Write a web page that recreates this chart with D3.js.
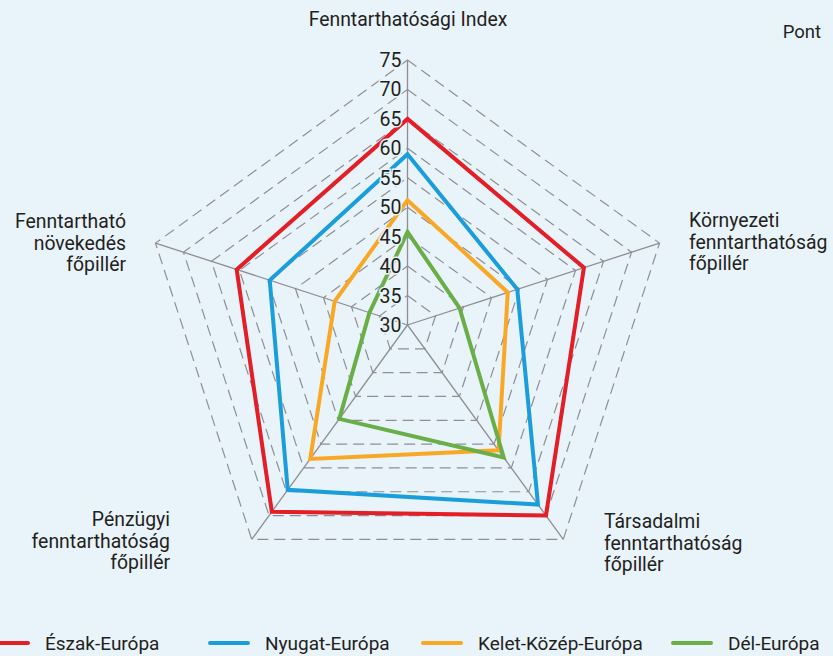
<!DOCTYPE html>
<html><head><meta charset="utf-8">
<script src="https://cdn.jsdelivr.net/npm/d3@7"></script>
<style>
body{margin:0;background:#e9f3fa;}
svg text{font-family:Roboto, "Liberation Sans", sans-serif; fill:#231f20;}
</style>
</head><body>
<svg id="chart" width="833" height="656"></svg>
<script>
// ---- data ----
const axisLabels = [
  ["Fenntarthatósági Index"],
  ["Környezeti", "fenntarthatóság", "főpillér"],
  ["Társadalmi", "fenntarthatóság", "főpillér"],
  ["Pénzügyi", "fenntarthatóság", "főpillér"],
  ["Fenntartható", "növekedés", "főpillér"]
];
const seriesNames = ["Észak-Európa", "Nyugat-Európa", "Kelet-Közép-Európa", "Dél-Európa"];
const eszak = [65, 61.5, 70, 69.2, 60.5];
const nyugat = [59, 49.6, 67.7, 64.6, 54.6];
const keletKozep = [51.2, 47.9, 56.3, 58.1, 43];
const del = [45.8, 39.3, 57.8, 49.7, 36.8];
const tickValues = [30, 35, 40, 45, 50, 55, 60, 65, 70, 75];
const unitLabel = "Pont";

// ---- layout ----
const colors = ["#e31e26", "#1a9edb", "#f9a825", "#6aae47"];
const series = [eszak, nyugat, keletKozep, del];
const cx = 407.5, cy = 325, R = 265;
const bg = "#e9f3fa";
const svg = d3.select("#chart");
svg.append("rect").attr("width", 833).attr("height", 656).attr("fill", bg);
const r = d3.scaleLinear().domain([30, 75]).range([0, R]);
const nAx = axisLabels.length;
const ang = d3.scaleLinear().domain([0, nAx]).range([0, 2 * Math.PI]);
const g = svg.append("g").attr("transform", `translate(${cx},${cy})`);

// grid rings
const ring = d3.lineRadial().angle((d, i) => ang(i)).radius(d => r(d)).curve(d3.curveLinearClosed);
g.selectAll("path.ring").data(tickValues.filter(t => t > 30)).join("path")
  .attr("class", "ring")
  .attr("d", t => ring(d3.range(nAx).map(() => t)))
  .attr("fill", "none").attr("stroke", "#8f8f93").attr("stroke-width", 1.2)
  .attr("stroke-dasharray", "11,6");

// spokes
g.selectAll("line.spoke").data(d3.range(nAx)).join("line")
  .attr("x1", 0).attr("y1", 0)
  .attr("x2", i => r(75) * Math.sin(ang(i)))
  .attr("y2", i => -r(75) * Math.cos(ang(i)))
  .attr("stroke", "#8f8f93").attr("stroke-width", 1.3);

// series
const line = d3.lineRadial().angle((d, i) => ang(i)).radius(d => r(d)).curve(d3.curveLinearClosed);
g.selectAll("path.series").data(series).join("path")
  .attr("class", "series")
  .attr("d", d => line(d))
  .attr("fill", "none")
  .attr("stroke", (d, i) => colors[i])
  .attr("stroke-width", 4)
  .attr("stroke-linejoin", "miter");

// tick labels
g.selectAll("text.tick").data(tickValues).join("text")
  .attr("class", "tick")
  .attr("x", -6).attr("y", t => -r(t))
  .attr("dy", "0.36em")
  .attr("text-anchor", "end")
  .attr("font-size", 19.5)
  .attr("stroke", bg).attr("stroke-width", 3).attr("paint-order", "stroke")
  .text(t => t);

// axis labels
const labelPos = [
  {x: 408, y: 26, anchor: "middle"},
  {x: 689, y: 227, anchor: "start"},
  {x: 604, y: 528, anchor: "start"},
  {x: 170, y: 526, anchor: "end"},
  {x: 126, y: 228, anchor: "end"}
];
axisLabels.forEach((lines, i) => {
  const p = labelPos[i];
  const t = svg.append("text").attr("x", p.x).attr("y", p.y)
    .attr("text-anchor", p.anchor).attr("font-size", 19.4);
  lines.forEach((s, j) => t.append("tspan").attr("x", p.x).attr("dy", j === 0 ? 0 : 21.5).text(s));
});

svg.append("text").attr("x", 821).attr("y", 38).attr("text-anchor", "end")
  .attr("font-size", 18.5).text(unitLabel);

// legend
const legX = [-10, 210, 423, 673];
const leg = svg.append("g");
seriesNames.forEach((name, i) => {
  leg.append("line").attr("x1", legX[i]).attr("x2", legX[i] + 38)
    .attr("y1", 643).attr("y2", 643)
    .attr("stroke", colors[i]).attr("stroke-width", 4).attr("stroke-linecap", "round");
  leg.append("text").attr("x", legX[i] + 55).attr("y", 650)
    .attr("font-size", 19).text(name);
});
</script>
</body></html>
